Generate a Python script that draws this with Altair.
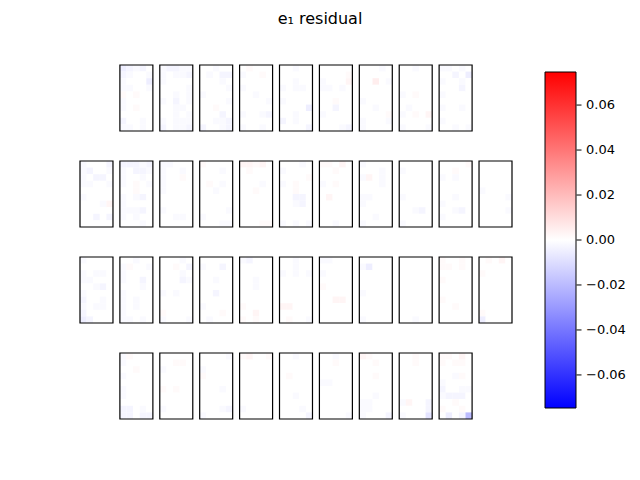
import altair as alt
import pandas as pd

# level codes -> residual values
LEVELS = {".": 0.0, "a": -0.0015, "b": -0.003, "c": -0.005, "d": -0.008,
          "e": -0.013, "f": -0.02, "p": 0.0015, "q": 0.003, "r": 0.005}

# each panel: 10 rows (top->bottom) of 5 cells
row1_panels = [
    ["cbab.", "ba..a", "a...c", "aa..a", "p.p..", "a....", "a.p..", ".....", "b..a.", "aa.a."],
    ["abbaa", "a.aab", "a....", "....a", "..a.a", "a.b.a", "..aa.", "..a.a", "a.aaa", "b.aab"],
    ["..a..", ".a.bb", "...a.", "....a", "a....", "....a", "..p..", "...b.", "..aab", "b..ab"],
    [".p...", "a..p.", ".....", "a....", "..a..", "....a", ".....", "a..ab", ".....", "a..a."],
    ["..a..", ".....", "..a..", "a.aa.", ".....", "a....", "....c", "..a..", "b.a..", "....b"],
    [".....", "....p", "a...q", "aa.a.", ".....", "..p..", "..b..", "a....", ".....", "...ab"],
    ["...a.", ".....", "..r.a", ".....", ".....", "a....", "..a..", "....p", "a...a", "a...."],
    ["..a..", ".....", ".....", ".....", "a.p..", ".....", ".a...", "a.p.q", ".....", "a...a"],
    ["aa.a.", "..b.c", "a..a.", "...b.", "a....", ".....", "a..a.", ".....", "a....", "..a.a"],
]
row2_panels = [
    ["a...b", "ab..a", "a.bb.", "aa..a", ".....", "a....", "...aq", ".....", "..b.b", "....."],
    ["bbbab", "a.bba", "a..a.", "a.p.a", "..p..", "a.ab.", "a....", "aaab.", "a.a..", "...a."],
    ["aa...", "a..a.", "a..p.", "a....", "a....", ".....", ".....", "a....", "..aa.", "....."],
    ["p....", "...a.", ".....", ".p.a.", "..a..", ".....", ".....", "....a", "a....", "...aa"],
    ["qqpq.", ".p...", ".....", "...a.", "..p..", ".....", ".....", ".....", ".....", "...pp"],
    ["...a.", "a....", "....p", "a.p..", "..p..", "..bb.", "..ab.", ".....", ".....", "a.a.a"],
    ["pp.q.", "..p..", ".....", "a.p..", ".....", ".q...", ".....", ".....", ".....", "..a.."],
    ["a....", "...a.", "aq.a.", "...a.", ".....", "aa...", "a....", ".....", "..a..", "a...."],
    [".....", "a....", ".....", ".....", ".....", "a....", ".....", "..ab.", ".....", "a...."],
    ["....p", "..p..", "a.a..", ".....", ".....", "..a..", "a....", "..ab.", "a....", "....."],
    [".....", ".....", ".....", ".....", "a....", "....a", ".....", "....a", ".....", "....."],
]
row3_panels = [
    ["a....", ".....", "a.aa.", "aa...", "..ab.", "a....", "b..a.", "a.aa.", "b....", "cb..."],
    ["..a..", "ap..a", "a....", "a..b.", "...a.", "a....", "a.a..", "a.a..", "a....", "aa.a."],
    ["...a.", "..p.b", "...a.", "...ba", ".....", "a.a..", ".....", ".....", "p....", "a...a"],
    [".....", "a..b.", ".....", "..a..", ".....", "..b..", ".....", "a....", "...p.", ".a..."],
    ["ab...", ".....", ".....", "..a..", "..a..", ".....", ".....", "p....", "..q..", "p.p.."],
    ["..a..", "..a..", "a.a.a", ".....", ".....", ".....", ".....", "qq...", ".....", ".p..a"],
    ["aa...", ".....", "a....", ".....", "p....", ".....", "..qq.", ".....", ".....", "....."],
    [".....", "ac...", ".....", ".....", ".....", "a....", ".....", ".....", ".....", "a...."],
    [".....", ".....", ".....", ".....", ".....", ".....", ".....", ".....", ".....", "..a.."],
    ["p..p.", "pp.p.", ".....", "p....", ".....", ".....", "p....", "..p..", ".....", "....."],
    [".p.q.", ".....", "p....", ".....", ".....", ".....", ".....", ".....", "p....", "c...."],
]
row4_panels = [
    ["ap...", "a....", "..p..", "a....", ".....", "a....", "a....", ".....", "bb.a.", "bb.bb"],
    [".....", "..pp.", "a....", ".....", ".....", "p.p..", ".....", ".....", "a....", "....."],
    ["....a", ".....", "a....", "p....", ".....", "...a.", ".....", ".....", "...ab", "a...."],
    ["pq..p", ".....", ".....", ".....", ".....", ".....", ".....", ".....", "a....", "....."],
    ["..a..", ".....", ".....", ".p...", ".....", ".....", "..a..", ".....", "...a.", "....b"],
    ["..a..", "..p..", ".....", ".....", "aa...", ".....", ".....", ".....", ".....", "....a"],
    ["qp...", "..p..", ".....", "..p..", ".....", ".....", "..a..", "aa...", "aa...", "a...b"],
    ["..p..", "..p..", ".....", ".....", ".....", ".....", ".....", "aq..b", "....b", "a...d"],
    ["pp.q.", "p.pp.", ".....", "..ap.", "a....", "b..aa", "abbb.", "..p..", "p..p.", ".c.bf"],
]
grid_rows = [row1_panels, row2_panels, row3_panels, row4_panels]
row_slot_offset = [1, 0, 0, 1]
colorbar_ticks = [-0.06, -0.04, -0.02, 0.0, 0.02, 0.04, 0.06]
vlim = 0.0747

NCOL, NROW = 5, 10
STEP_X = 6.05   # panel pitch in cell units
STEP_Y = 14.55

cells, frames = [], []
for r, panels in enumerate(grid_rows):
    for k, panel in enumerate(panels):
        slot = k + row_slot_offset[r]
        x0 = slot * STEP_X
        y0 = r * STEP_Y
        frames.append({"fx": x0, "fx2": x0 + NCOL, "fy": y0, "fy2": y0 + NROW})
        for j, line in enumerate(panel):
            for i, ch in enumerate(line[:NCOL]):
                cells.append({"x": x0 + i, "x2": x0 + i + 1,
                              "y": y0 + j, "y2": y0 + j + 1,
                              "v": LEVELS[ch]})
cells = pd.DataFrame(cells)
frames = pd.DataFrame(frames)
ticks = pd.DataFrame({"t": colorbar_ticks})

xs = alt.Scale(domain=[0, 10 * STEP_X + NCOL], nice=False, zero=False)
ys = alt.Scale(domain=[0, 3 * STEP_Y + NROW], nice=False, zero=False, reverse=True)

heat = alt.Chart(cells).mark_rect(strokeWidth=0).encode(
    x=alt.X("x:Q", scale=xs, axis=None),
    x2="x2:Q",
    y=alt.Y("y:Q", scale=ys, axis=None),
    y2="y2:Q",
    color=alt.Color(
        "v:Q",
        scale=alt.Scale(domain=[-vlim, 0, vlim],
                        range=["#0000ff", "#ffffff", "#ff0000"],
                        interpolate="rgb", clamp=True),
        legend=alt.Legend(
            orient="none", legendX=465, legendY=7, direction="vertical",
            gradientLength=336, gradientThickness=31,
            gradientStrokeColor="black", gradientStrokeWidth=1,
            values=colorbar_ticks, format=".2f", title=None,
            labelFontSize=13, labelFont="DejaVu Sans", labelColor="black",
            labelOffset=10, labelOverlap=False, padding=0,
        ),
    ),
)

box = alt.Chart(frames).mark_rect(fillOpacity=0, stroke="black", strokeWidth=1.2).encode(
    x=alt.X("fx:Q", scale=xs, axis=None),
    x2="fx2:Q",
    y=alt.Y("fy:Q", scale=ys, axis=None),
    y2="fy2:Q",
)

cbar_ticks = alt.Chart(ticks).mark_rule(color="black", strokeWidth=1).encode(
    y=alt.Y("t:Q", scale=alt.Scale(domain=[-vlim, vlim], range=[343, 7],
                                   nice=False, zero=False), axis=None),
    x=alt.value(496.5),
    x2=alt.value(501.5),
)

chart = alt.layer(heat, box, cbar_ticks).resolve_scale(y="independent").properties(
    width=432, height=354,
    autosize=alt.AutoSizeParams(type="none"),
    padding={"left": 80, "top": 65, "right": 128, "bottom": 61},
    background="white",
    title=alt.TitleParams("e₁ residual", fontSize=16, font="DejaVu Sans",
                          fontWeight="normal", anchor="middle", dx=24,
                          offset=24, baseline="alphabetic", color="black"),
).configure_view(stroke=None)

chart.save("out.html", embed_options={"renderer": "svg", "actions": False})
